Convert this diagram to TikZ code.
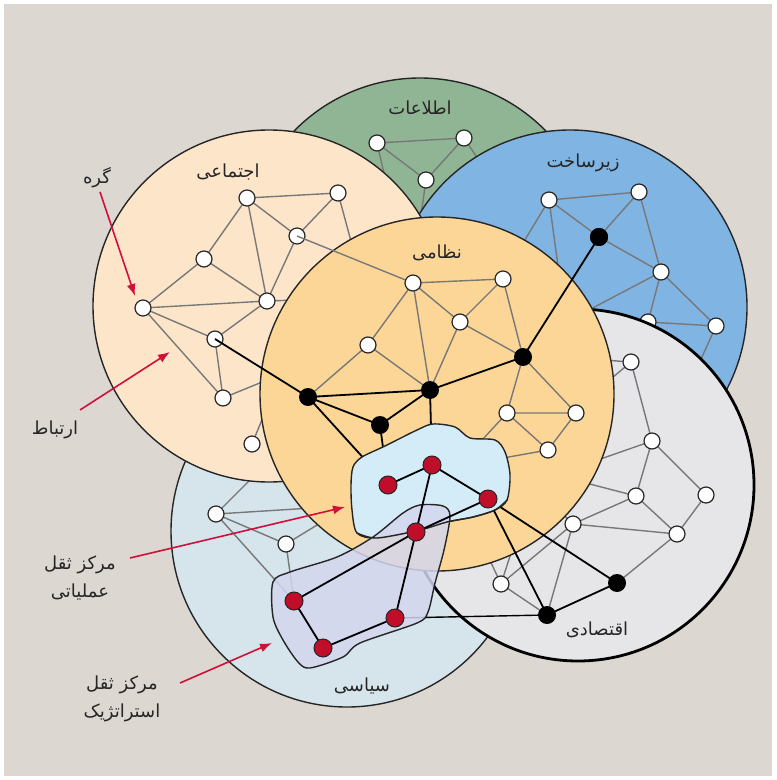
\documentclass[tikz,border=0pt]{standalone}
\usepackage{fontspec}
\usetikzlibrary{arrows.meta}
\TeXXeTstate=1
\newfontfamily\arabicfont[Script=Arabic]{DejaVu Sans}

\definecolor{bgcol}{RGB}{221,215,209}
\definecolor{infocol}{RGB}{143,181,148}
\definecolor{socialcol}{RGB}{253,229,202}
\definecolor{infracol}{RGB}{128,180,226}
\definecolor{milcol}{RGB}{252,214,150}
\definecolor{polcol}{RGB}{214,228,235}
\definecolor{econcol}{RGB}{230,230,232}
\definecolor{opcol}{RGB}{212,236,248}
\definecolor{stratcol}{RGB}{211,214,238}
\definecolor{redcol}{RGB}{192,13,42}
\definecolor{arrowred}{RGB}{208,16,58}
\definecolor{linkgray}{RGB}{120,120,120}

\tikzset{
  wnode/.style={circle,draw=black!85,fill=white,line width=0.6pt,inner sep=0pt,minimum size=8pt},
  bnode/.style={circle,fill=black,inner sep=0pt,minimum size=9pt},
  rnode/.style={circle,draw=black!85,fill=redcol,line width=0.5pt,inner sep=0pt,minimum size=9pt},
  link/.style={draw=linkgray,line width=0.7pt},
  blink/.style={draw=black,line width=0.9pt},
  ring/.style={draw=black!85,line width=0.7pt},
  pointer/.style={draw=arrowred,line width=0.8pt,-{Latex[length=6pt,width=4.5pt]}},
  lbl/.style={font=\arabicfont\fontsize{9}{14}\selectfont,text=black!85,align=center},
}

\begin{document}
\begin{tikzpicture}[x=0.5pt,y=-0.5pt]
\useasboundingbox (0,0) rectangle (776,780);
\fill[white] (0,0) rectangle (776,780);
\fill[bgcol] (4,4) rectangle (772,776);

% positions of the nodes
\coordinate (n1) at (377,143); \coordinate (n2) at (464,138); \coordinate (n3) at (426,180);
\coordinate (hn1) at (386,182); \coordinate (hn2) at (480,162); \coordinate (hn3) at (420,222);
\coordinate (i1) at (549,200); \coordinate (i2) at (639,192); \coordinate (ib) at (599,237);
\coordinate (i3) at (661,272); \coordinate (i4) at (716,326); \coordinate (i5) at (648,322);
\coordinate (hi1) at (520,248); \coordinate (hi2) at (562,295); \coordinate (hi3) at (585,312);
\coordinate (hi4) at (697,368); \coordinate (hi5) at (652,352);
\coordinate (p1) at (216,514); \coordinate (p2) at (286,544);
\coordinate (hp1) at (258,472); \coordinate (hp2) at (312,508); \coordinate (hp3) at (322,522);
\coordinate (s1) at (247,198); \coordinate (s2) at (338,193); \coordinate (s3) at (297,236);
\coordinate (s4) at (204,259); \coordinate (s5) at (143,308); \coordinate (s6) at (267,301);
\coordinate (s7) at (215,339); \coordinate (s8) at (223,398); \coordinate (s9) at (252,444);
\coordinate (hs2) at (352,245); \coordinate (hs6) at (298,300); \coordinate (hs8) at (272,378);
\coordinate (hs9) at (266,410);
\coordinate (g1) at (631,362); \coordinate (g2) at (652,441); \coordinate (g3) at (706,495);
\coordinate (g4) at (636,496); \coordinate (g5) at (573,524); \coordinate (g6) at (677,534);
\coordinate (g7) at (501,584); \coordinate (e1) at (547,615); \coordinate (e2) at (617,583);
\coordinate (hg1a) at (603,360); \coordinate (hg1b) at (600,388); \coordinate (hg2) at (592,462);
\coordinate (hg4) at (582,482); \coordinate (hg5) at (548,500); \coordinate (hg7a) at (486,552);
\coordinate (hg7b) at (512,550);
\coordinate (m1) at (413,283); \coordinate (m2) at (503,279); \coordinate (m3) at (460,322);
\coordinate (m4) at (368,345); \coordinate (m5) at (507,413); \coordinate (m6) at (576,413);
\coordinate (m7) at (548,450);
\coordinate (b1) at (308,397); \coordinate (b2) at (430,390); \coordinate (b3) at (523,357);
\coordinate (b4) at (380,425);
\coordinate (hm5) at (482,440); \coordinate (hm7) at (503,458);
\coordinate (r1) at (388,485); \coordinate (r2) at (432,465); \coordinate (r3) at (488,499);
\coordinate (r4) at (416,532); \coordinate (r5) at (294,601); \coordinate (r6) at (395,618);
\coordinate (r7) at (323,648);

% information
\filldraw[ring,fill=infocol] (420,254) circle[radius=88pt];
\draw[link] (n1) -- (n2) -- (n3) -- (n1);
\draw[link] (n1) -- (hn1) (n2) -- (hn2) (n3) -- (hn3);
\foreach \c in {n1,n2,n3} \node[wnode] (\c-dot) at (\c) {};

% infrastructure
\filldraw[ring,fill=infracol] (570,307) circle[radius=88.5pt];
\draw[link] (i1) -- (i2) -- (ib) -- (i1);
\draw[link] (i2) -- (i3) -- (ib);
\draw[link] (i3) -- (i4) -- (i5) -- (i3);
\draw[link] (i1) -- (hi1) (i1) -- (hi2) (i3) -- (hi3) (i4) -- (hi4) (i5) -- (hi5);
\foreach \c in {i1,i2,i3,i4,i5} \node[wnode] (\c-dot) at (\c) {};
\node[bnode] (ib-dot) at (ib) {};

% political
\filldraw[ring,fill=polcol] (347,531) circle[radius=88pt];
\draw[link] (p1) -- (p2);
\draw[link] (p1) -- (hp1) (p1) -- (hp2) (p2) -- (hp3) (p1) -- (r5) (p2) -- (r5);
\foreach \c in {p1,p2} \node[wnode] (\c-dot) at (\c) {};

% social
\filldraw[ring,fill=socialcol] (269,306) circle[radius=88pt];
\draw[link] (s1) -- (s2) -- (s3) -- (s1) -- (s4) -- (s5) -- (s6) -- (s1);
\draw[link] (s3) -- (s6) -- (s4);
\draw[link] (s5) -- (s7) -- (s6);
\draw[link] (s5) -- (s8) -- (s7);
\draw[link] (s2) -- (hs2) (s6) -- (hs6) (s8) -- (hs8) (s9) -- (hs9);
\foreach \c in {s1,s2,s3,s4,s5,s6,s7,s8,s9} \node[wnode] (\c-dot) at (\c) {};

% economic
\filldraw[draw=black,line width=1.4pt,fill=econcol] (578,485) circle[radius=88pt];
\draw[link] (g1) -- (g2) -- (g3) -- (g6) -- (g4) -- (g2);
\draw[link] (g4) -- (g5) -- (g6) -- (e2);
\draw[link] (g5) -- (g7) -- (e1) -- (g5);
\draw[link] (g1) -- (hg1a) (g1) -- (hg1b) (g2) -- (hg2) (g4) -- (hg4) (g5) -- (hg5)
  (g7) -- (hg7a) (g7) -- (hg7b);
\foreach \c in {g1,g2,g3,g4,g5,g6,g7} \node[wnode] (\c-dot) at (\c) {};

% military
\filldraw[ring,fill=milcol] (437,394) circle[radius=88.5pt];
\draw[link] (m1) -- (m2) -- (m3) -- (m1) -- (m4) -- (b1);
\draw[link] (m1) -- (b2) -- (m3) -- (b3) -- (m2);
\draw[link] (m4) -- (b2);
\draw[link] (b3) -- (m5) -- (m6) -- (b3);
\draw[link] (m5) -- (m7) -- (m6);
\draw[link] (m5) -- (hm5) (m7) -- (hm7);
\draw[link] (s3) -- (m1);
\draw[blink] (s7) -- (b1) -- (b2) -- (b3) -- (ib);
\draw[blink] (b1) -- (b4) -- (b2);
\draw[blink] (b2) -- (r2) (b4) -- (r1) (b1) -- (r1);
\draw[blink] (e1) -- (e2) -- (r3) -- (e1);
\draw[black,line width=0.7pt] (r6) -- (e1);
\foreach \c in {m1,m2,m3,m4,m5,m6,m7} \node[wnode] (\c-dot) at (\c) {};
\foreach \c in {b1,b2,b3,b4,e1,e2} \node[bnode] (\c-dot) at (\c) {};
\node[bnode] (ib-top) at (ib) {};

% centres of gravity
\filldraw[ring,fill=opcol] plot[smooth cycle,tension=0.5] coordinates {
  (353,467) (362,457) (385,446) (417,430) (433,424) (455,427) (470,438) (495,440)
  (505,452) (510,475) (507,500) (495,510) (473,517) (447,522) (420,530) (377,538)
  (357,533) (352,510) (351,485)};
\filldraw[ring,fill=stratcol,fill opacity=0.85] plot[smooth cycle,tension=0.5] coordinates {
  (273,582) (290,572) (337,557) (373,537) (403,513) (420,505) (443,506) (450,516)
  (444,550) (435,583) (428,612) (417,623) (360,643) (343,657) (310,668) (298,662)
  (283,640) (273,617)};
\draw[ring] plot[smooth,tension=0.5] coordinates {(507,500) (495,510) (473,517) (447,522) (420,530) (377,538) (357,533)};
\draw[blink] (r1) -- (r2) -- (r3) -- (r4) -- (r2);
\draw[blink] (r4) -- (r5) -- (r7) -- (r6) -- (r4);
\foreach \c in {r1,r2,r3,r4,r5,r6,r7} \node[rnode] (\c-dot) at (\c) {};

% names of the domains
\node[lbl] (info) at (420,108) {\beginR اطلاعات\endR};
\node[lbl] (social) at (228,172) {\beginR اجتماعی\endR};
\node[lbl] (infra) at (583,163) {\beginR زیرساخت\endR};
\node[lbl] (mil) at (437,253) {\beginR نظامی\endR};
\node[lbl] (econ) at (597,630) {\beginR اقتصادی\endR};
\node[lbl] (pol) at (362,686) {\beginR سیاسی\endR};

% pointers
\node[lbl] (nodelbl) at (97,178) {\beginR گره\endR};
\node[lbl] (linklbl) at (55,430) {\beginR ارتباط\endR};
\node[lbl] (oplbl) at (80,578) {\beginR مرکز ثقل\endR\\\beginR عملیاتی\endR};
\node[lbl] (stratlbl) at (122,699) {\beginR مرکز ثقل\endR\\\beginR استراتژیک\endR};
\coordinate (nodetail) at (100,192); \coordinate (nodehead) at (135,296);
\coordinate (linktail) at (80,410); \coordinate (linkhead) at (170,352);
\coordinate (optail) at (130,558); \coordinate (ophead) at (345,507);
\coordinate (strattail) at (180,683); \coordinate (strathead) at (272,643);
\draw[pointer] (nodetail) -- (nodehead);
\draw[pointer] (linktail) -- (linkhead);
\draw[pointer] (optail) -- (ophead);
\draw[pointer] (strattail) -- (strathead);
\end{tikzpicture}
\end{document}
